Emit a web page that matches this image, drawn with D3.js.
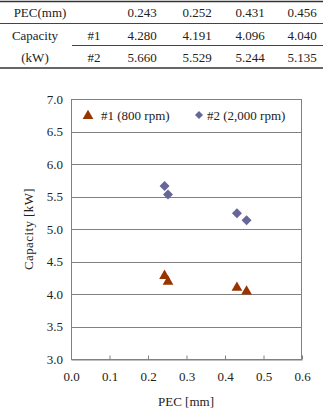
<!DOCTYPE html>
<html><head><meta charset="utf-8">
<script src="https://cdn.jsdelivr.net/npm/d3@7"></script>
<style>html,body{margin:0;padding:0;background:#fff;}svg{display:block;} svg text{font-family:"Times New Roman","Liberation Serif",Times,serif !important;}</style>
</head><body>
<svg id="c" width="323" height="410"></svg>
<script>
const pec = [0.243, 0.252, 0.431, 0.456];
const cap1 = [4.280, 4.191, 4.096, 4.040];
const cap2 = [5.660, 5.529, 5.244, 5.135];
const seriesNames = ["#1 (800 rpm)", "#2 (2,000 rpm)"];
const xTicks = [0, 0.1, 0.2, 0.3, 0.4, 0.5, 0.6];
const yTicks = [3.0, 3.5, 4.0, 4.5, 5.0, 5.5, 6.0, 6.5, 7.0];
const colors = ["#993300", "#666699"];

const svg = d3.select("#c");

// ---- table ----
const tbl = svg.append("g").attr("font-size", 13).attr("fill", "#222");
const colX = [142, 197, 250, 302];
tbl.append("line").attr("x1",0).attr("x2",323).attr("y1",1.5).attr("y2",1.5).attr("stroke","#333").attr("stroke-width",1.6);
tbl.append("line").attr("x1",0).attr("x2",323).attr("y1",23.5).attr("y2",23.5).attr("stroke","#444").attr("stroke-width",1);
tbl.append("line").attr("x1",72).attr("x2",323).attr("y1",45.5).attr("y2",45.5).attr("stroke","#444").attr("stroke-width",1);
tbl.append("line").attr("x1",0).attr("x2",323).attr("y1",68).attr("y2",68).attr("stroke","#333").attr("stroke-width",1.6);
tbl.append("text").attr("x",40).attr("y",17).attr("text-anchor","middle").text("PEC(mm)");
tbl.append("text").attr("x",35).attr("y",40).attr("text-anchor","middle").text("Capacity");
tbl.append("text").attr("x",35).attr("y",62).attr("text-anchor","middle").text("(kW)");
tbl.append("text").attr("x",94).attr("y",40).attr("text-anchor","middle").text("#1");
tbl.append("text").attr("x",94).attr("y",62).attr("text-anchor","middle").text("#2");
const fmt = d3.format(".3f");
pec.forEach((v,i)=>{
  tbl.append("text").attr("x",colX[i]).attr("y",17).attr("text-anchor","middle").text(fmt(v));
  tbl.append("text").attr("x",colX[i]).attr("y",40).attr("text-anchor","middle").text(fmt(cap1[i]));
  tbl.append("text").attr("x",colX[i]).attr("y",62).attr("text-anchor","middle").text(fmt(cap2[i]));
});

// ---- chart ----
const L = 71, R = 302, T = 99, B = 359;
const x = d3.scaleLinear().domain([0, 0.6]).range([L, R]);
const y = d3.scaleLinear().domain([3, 7]).range([B, T]);

const g = svg.append("g");
g.selectAll("line.grid").data(yTicks).join("line")
  .attr("x1", L).attr("x2", R).attr("y1", d=>Math.round(y(d))+0.5).attr("y2", d=>Math.round(y(d))+0.5)
  .attr("stroke", "#808080").attr("stroke-width", 1);
g.append("rect").attr("x", L+0.5).attr("y", Math.round(T)+0.5).attr("width", R-L-1).attr("height", B-T)
  .attr("fill","none").attr("stroke","#808080").attr("stroke-width",1);

const xAxis = d3.axisBottom(x).tickValues(xTicks).tickFormat(d3.format(".1f")).tickSizeInner(-4).tickSizeOuter(0).tickPadding(12);
const xa = svg.append("g").attr("transform", `translate(0,${Math.round(B)+0.5})`).call(xAxis);
xa.select(".domain").attr("stroke","#808080");
xa.selectAll(".tick line").attr("stroke","#808080");
xa.selectAll("text").attr("font-size",13).attr("fill","#222");

const yAxis = d3.axisLeft(y).tickValues(yTicks).tickFormat(d3.format(".1f")).tickSize(0).tickPadding(8);
const ya = svg.append("g").attr("transform", `translate(${L},0)`).call(yAxis);
ya.select(".domain").remove();
ya.selectAll("text").attr("font-size",13).attr("fill","#222");

svg.append("text").attr("x", 186).attr("y", 406).attr("text-anchor","middle").attr("font-size",13).attr("fill","#222").text("PEC [mm]");
svg.append("text").attr("transform","translate(33,229) rotate(-90)").attr("text-anchor","middle").attr("font-size",13).attr("fill","#222").attr("letter-spacing","0.4").text("Capacity [kW]");

const tri = d3.symbol().type(d3.symbolTriangle).size(50);
const diaPath = "M0,-5L5,0L0,5L-5,0Z";
g.selectAll("path.s1").data(pec.map((p,i)=>[p,cap1[i]])).join("path")
  .attr("d", tri).attr("transform", d=>`translate(${x(d[0])},${y(d[1])})`).attr("fill", colors[0]);
g.selectAll("path.s2").data(pec.map((p,i)=>[p,cap2[i]])).join("path")
  .attr("d", diaPath).attr("transform", d=>`translate(${x(d[0])},${y(d[1])})`).attr("fill", colors[1]);

const lg = svg.append("g").attr("font-size",13).attr("fill","#222");
lg.append("path").attr("d", tri).attr("transform","translate(88,116)").attr("fill",colors[0]);
lg.append("text").attr("x",101).attr("y",120).text(seriesNames[0]);
lg.append("path").attr("d", "M0,-4L4,0L0,4L-4,0Z").attr("transform","translate(199,115)").attr("fill",colors[1]);
lg.append("text").attr("x",207).attr("y",120).text(seriesNames[1]);
</script>
</body></html>
